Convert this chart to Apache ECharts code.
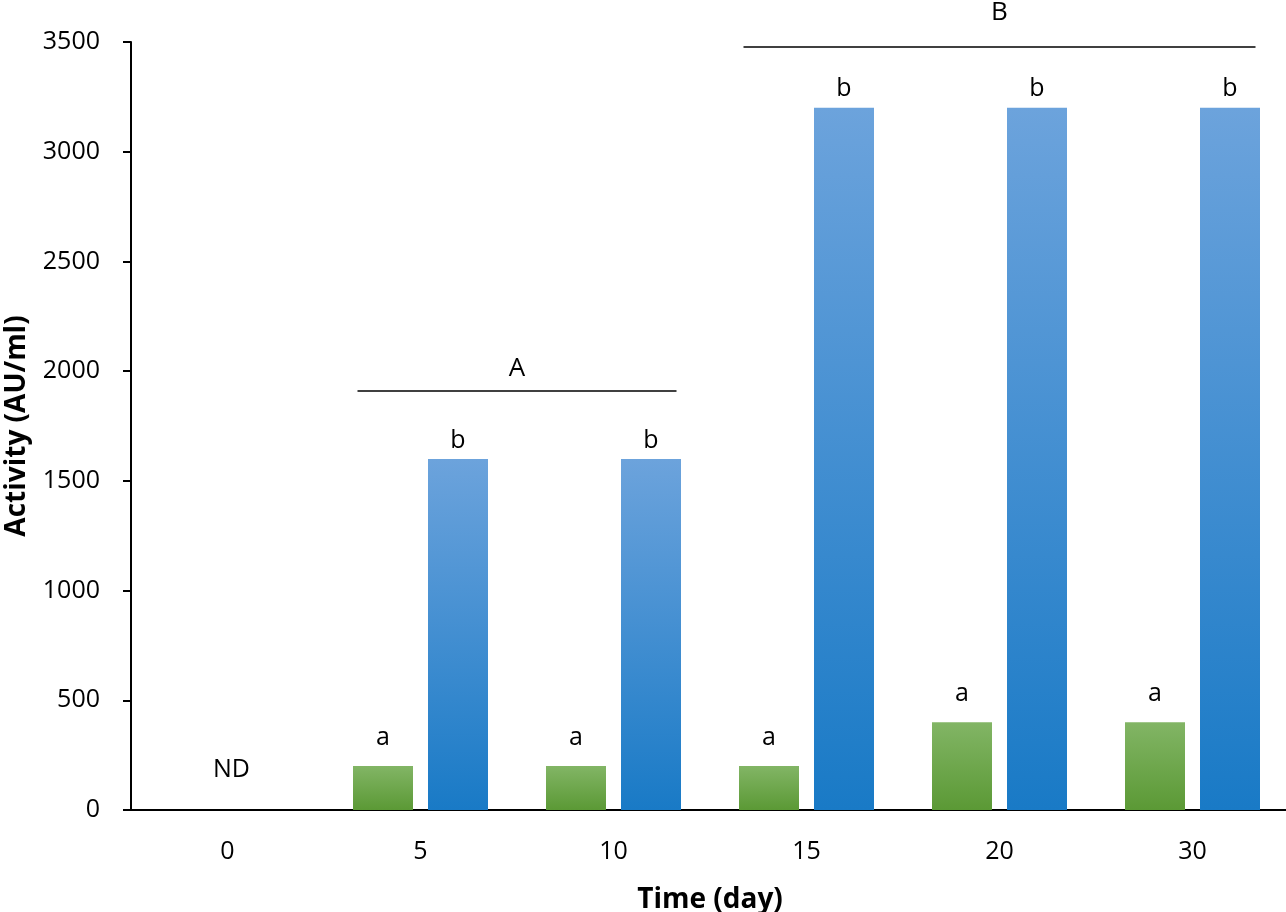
<!DOCTYPE html>
<html>
<head>
<meta charset="utf-8">
<script src="https://cdn.jsdelivr.net/npm/echarts@6/dist/echarts.min.js"></script>
<style>
  html, body { margin: 0; padding: 0; background: #fff; }
  #chart { width: 1286px; height: 912px; }
</style>
</head>
<body>
<div id="chart"></div>
<script>
const categories = ["0", "5", "10", "15", "20", "30"];
const greenValues = [0, 200, 200, 200, 400, 400];
const blueValues = [0, 1600, 1600, 3200, 3200, 3200];
const greenLabels = ["", "a", "a", "a", "a", "a"];
const blueLabels = ["", "b", "b", "b", "b", "b"];
const yTicks = { min: 0, max: 3500, interval: 500 };
// group brackets: label, first and last category, level on the y axis
const brackets = [
  { label: "A", from: "5", to: "10", y: 1909 },
  { label: "B", from: "15", to: "30", y: 3477 }
];
const notDetected = { category: "0", label: "ND" };

document.addEventListener("DOMContentLoaded", function () {
  const chart = echarts.init(document.getElementById("chart"));
  const font = "Open Sans";
  const bracketLabelGap = [23, 34];

  const greenFill = new echarts.graphic.LinearGradient(0, 0, 0, 1, [
    { offset: 0, color: "#82b565" },
    { offset: 1, color: "#5b9935" }
  ]);
  const blueFill = new echarts.graphic.LinearGradient(0, 0, 0, 1, [
    { offset: 0, color: "#6ca3dc" },
    { offset: 1, color: "#197ac6" }
  ]);

  const option = {
    animation: false,
    grid: { left: 131, top: 42, width: 1158, height: 768, outerBoundsMode: "none", containLabel: false },
    xAxis: {
      type: "category",
      data: categories,
      axisLine: { lineStyle: { color: "#000", width: 2 } },
      axisTick: { show: false },
      axisLabel: { color: "#000", fontFamily: font, fontSize: 25, margin: 29 },
      name: "Time (day)",
      nameLocation: "middle",
      nameGap: 76,
      nameTextStyle: { color: "#000", fontFamily: font, fontSize: 28, fontWeight: "bold" }
    },
    yAxis: {
      type: "value",
      min: yTicks.min,
      max: yTicks.max,
      interval: yTicks.interval,
      splitLine: { show: false },
      axisLine: { show: true, lineStyle: { color: "#000", width: 2 } },
      axisTick: { show: true, length: 8, lineStyle: { color: "#000", width: 2 } },
      axisLabel: { color: "#000", fontFamily: font, fontSize: 25, margin: 31, formatter: (v) => String(v) },
      name: "Activity (AU/ml)",
      nameLocation: "middle",
      nameGap: 100,
      nameTextStyle: { color: "#000", fontFamily: font, fontSize: 28, fontWeight: "bold" }
    },
    series: [
      {
        type: "bar",
        data: greenValues,
        barWidth: 60,
        barGap: "25%",
        itemStyle: { color: greenFill },
        label: {
          show: true,
          position: "top",
          distance: 16,
          color: "#000",
          fontFamily: font,
          fontSize: 25,
          formatter: (p) => greenLabels[p.dataIndex]
        }
      },
      {
        type: "bar",
        data: blueValues,
        barWidth: 60,
        itemStyle: { color: blueFill },
        label: {
          show: true,
          position: "top",
          distance: 6,
          color: "#000",
          fontFamily: font,
          fontSize: 25,
          formatter: (p) => blueLabels[p.dataIndex]
        }
      }
    ]
  };
  chart.setOption(option);

  // brackets drawn from the axis scales, spanning the outer bar edges of each group
  const halfSpan = 63;
  const graphics = [];
  brackets.forEach((b, i) => {
    const p1 = chart.convertToPixel({ gridIndex: 0 }, [b.from, b.y]);
    const p2 = chart.convertToPixel({ gridIndex: 0 }, [b.to, b.y]);
    const x1 = p1[0] - halfSpan;
    const x2 = p2[0] + halfSpan;
    graphics.push({
      type: "line",
      shape: { x1: x1, y1: p1[1], x2: x2, y2: p1[1] },
      style: { stroke: "#000", lineWidth: 1.5 }
    });
    graphics.push({
      type: "text",
      x: (x1 + x2) / 2,
      y: p1[1] - bracketLabelGap[i],
      style: {
        text: b.label,
        fill: "#000",
        font: "26px '" + font + "'",
        textAlign: "center",
        textVerticalAlign: "middle"
      }
    });
  });

  // "ND" note at the centre of the not-detected category
  const nd = chart.convertToPixel({ gridIndex: 0 }, [notDetected.category, 0]);
  graphics.push({
    type: "text",
    x: nd[0] + 4,
    y: nd[1] - 40,
    style: {
      text: notDetected.label,
      fill: "#000",
      font: "25px '" + font + "'",
      textAlign: "center",
      textVerticalAlign: "middle"
    }
  });
  chart.setOption({ graphic: graphics });

  window.addEventListener("resize", function () {
    chart.resize();
  });
});
</script>
</body>
</html>
